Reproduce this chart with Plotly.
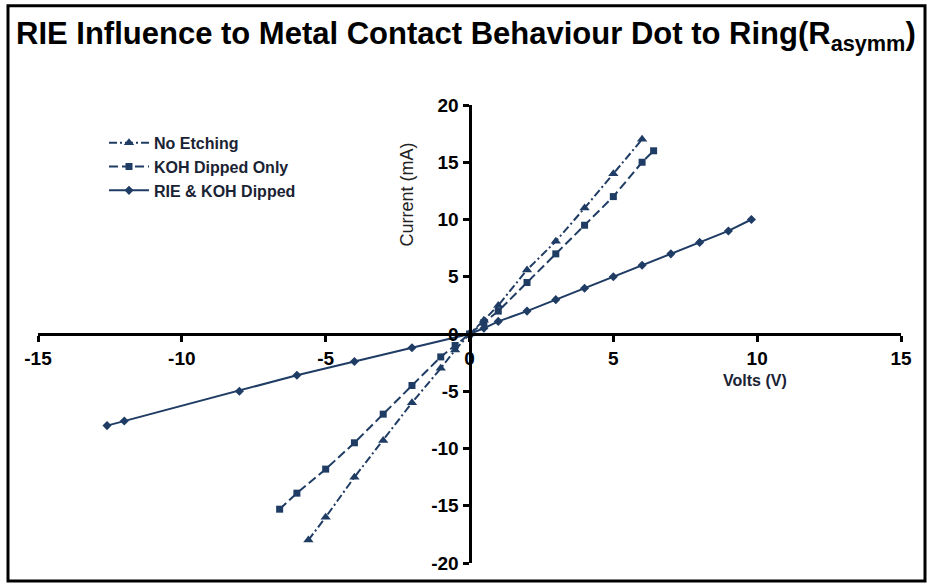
import plotly.graph_objects as go

# ---- data ----
no_etch_v = [-5.6, -5, -4, -3, -2, -1, -0.5, 0, 0.5, 1, 2, 3, 4, 5, 6]
no_etch_i = [-18, -16, -12.5, -9.3, -6, -3, -1.4, 0, 1.2, 2.5, 5.6, 8.1, 11, 14, 17]

koh_v = [-6.6, -6, -5, -4, -3, -2, -1, -0.5, 0, 0.5, 1, 2, 3, 4, 5, 6, 6.4]
koh_i = [-15.3, -13.9, -11.8, -9.5, -7, -4.5, -2, -1, 0, 1, 2, 4.5, 7, 9.5, 12, 15, 16]

rie_v = [-12.6, -12, -8, -6, -4, -2, 0, 0.5, 1, 2, 3, 4, 5, 6, 7, 8, 9, 9.8]
rie_i = [-8, -7.6, -5, -3.6, -2.4, -1.2, 0, 0.5, 1.1, 2, 3, 4, 5, 6, 7, 8, 9, 10]

series_names = ["No Etching", "KOH Dipped Only", "RIE & KOH Dipped"]
x_ticks = [-15, -10, -5, 0, 5, 10, 15]
y_ticks = [-20, -15, -10, -5, 0, 5, 10, 15, 20]

title_text = "RIE Influence to Metal Contact Behaviour Dot to Ring(R<sub>asymm</sub>)"
x_title = "Volts (V)"
y_title = "Current (mA)"

C = "#1f3c64"
W, H = 927, 586
L, R, T, B = 38, 26, 105, 20
PW, PH = W - L - R, H - T - B


def px(xp):
    return (xp - L) / PW


def py(yp):
    return 1 - (yp - T) / PH


fig = go.Figure()
fig.add_trace(go.Scatter(
    x=no_etch_v, y=no_etch_i, name="<b>" + series_names[0] + "</b>", mode="lines+markers",
    line=dict(color=C, width=2, dash="8px,3px,2px,3px"),
    marker=dict(symbol="triangle-up", size=9, color=C)))
fig.add_trace(go.Scatter(
    x=koh_v, y=koh_i, name="<b>" + series_names[1] + "</b>", mode="lines+markers",
    line=dict(color=C, width=2, dash="9px,4px"),
    marker=dict(symbol="square", size=7, color=C)))
fig.add_trace(go.Scatter(
    x=rie_v, y=rie_i, name="<b>" + series_names[2] + "</b>", mode="lines+markers",
    line=dict(color=C, width=2),
    marker=dict(symbol="diamond", size=7, color=C)))

tickfont = dict(family="Liberation Sans, Arial, sans-serif", size=19, color="#000000")

fig.update_layout(
    width=W, height=H,
    margin=dict(l=L, r=R, t=T, b=B),
    paper_bgcolor="white", plot_bgcolor="white",
    showlegend=True,
    legend=dict(x=px(104), y=py(126), xanchor="left", yanchor="top",
                font=dict(family="Liberation Sans, Arial, sans-serif", size=16, color="#1a2333"),
                bgcolor="rgba(0,0,0,0)", tracegroupgap=0, itemwidth=40),
    xaxis=dict(range=[-15, 15], tickvals=x_ticks, ticktext=[f"<b>{v}</b>" for v in x_ticks],
               anchor="free", position=0.5, showline=True, linecolor="black", linewidth=3,
               ticks="outside", ticklen=6, tickwidth=3, tickcolor="black",
               showgrid=False, zeroline=False, tickfont=tickfont),
    yaxis=dict(range=[-20, 20], tickvals=y_ticks, ticktext=[f"<b>{v}</b>" for v in y_ticks],
               anchor="free", position=0.5, showline=True, linecolor="black", linewidth=3,
               ticks="outside", ticklen=6, tickwidth=3, tickcolor="black",
               showgrid=False, zeroline=False, tickfont=tickfont),
    shapes=[dict(type="rect", xref="paper", yref="paper",
                 x0=px(8), x1=px(925), y0=py(584), y1=py(5),
                 line=dict(color="black", width=3))],
    annotations=[
        dict(text="<b>" + title_text + "</b>", xref="paper", yref="paper",
             x=px(466), y=py(36), xanchor="center", yanchor="middle", showarrow=False,
             font=dict(family="Liberation Sans, Arial, sans-serif", size=31, color="#000000")),
        dict(text="<b>" + x_title + "</b>", xref="paper", yref="paper",
             x=px(755), y=py(382), xanchor="center", yanchor="middle", showarrow=False,
             font=dict(family="Liberation Sans, Arial, sans-serif", size=16, color="#1a2333")),
        dict(text=y_title, xref="paper", yref="paper", textangle=-90,
             x=px(407), y=py(195), xanchor="center", yanchor="middle", showarrow=False,
             font=dict(family="Liberation Sans, Arial, sans-serif", size=18, color="#222222")),
    ],
)

fig.write_html("out.html")
